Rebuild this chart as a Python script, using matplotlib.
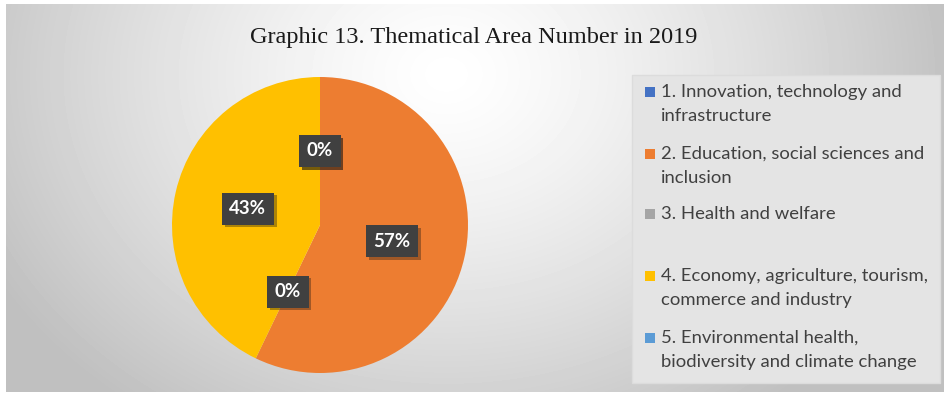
import numpy as np
import matplotlib.pyplot as plt
import matplotlib.patheffects as pe
from matplotlib.patches import Rectangle

# Thematical areas (number of projects in 2019)
areas = ['1. Innovation, technology and\ninfrastructure',
         '2. Education, social sciences and\ninclusion',
         '3. Health and welfare',
         '4. Economy, agriculture, tourism,\ncommerce and industry',
         '5. Environmental health,\nbiodiversity and climate change']
counts = [0, 4, 0, 3, 0]
colors = ['#4472C4', '#ED7D31', '#A5A5A5', '#FFC000', '#5B9BD5']

W, H = 948, 396
fig = plt.figure(figsize=(W / 100, H / 100), dpi=100, facecolor='white')

# background with radial grey gradient
bg = fig.add_axes([6 / W, 4 / H, 938 / W, 388 / H])
yy, xx = np.mgrid[0:388, 0:938]
d = np.sqrt(((xx - 440) / 520.0) ** 2 + ((yy - 70) / 420.0) ** 2)
shade = 1.0 - 0.25 * np.clip(d, 0, 1) ** 1.3
bg.imshow(shade, cmap='gray', vmin=0, vmax=1, aspect='auto',
          extent=[0, 938, 388, 0])
bg.set_axis_off()

fig.text(0.5, 1 - 37 / H, 'Graphic 13. Thematical Area Number in 2019',
         ha='center', va='center', fontsize=17.5, family='Liberation Serif',
         color='#1a1a1a')

# pie
r = 148
cx, cy = 320, 225
ax = fig.add_axes([(cx - r) / W, (H - cy - r) / H, 2 * r / W, 2 * r / H])
wedges, texts, autotexts = ax.pie(counts, colors=colors, startangle=90,
                                  counterclock=False, autopct='%.0f%%',
                                  pctdistance=0.5, radius=1)
ax.set_xlim(-1, 1)
ax.set_ylim(-1, 1)
for t in autotexts:
    t.set_color('white')
    t.set_fontsize(13.5)
    t.set_fontweight('bold')
    t.set_family('Lato')
    t.set_bbox(dict(boxstyle='square,pad=0.4', facecolor='#404040',
                    edgecolor='none'))
    t.get_bbox_patch().set_path_effects(
        [pe.withSimplePatchShadow(offset=(2, -2), alpha=0.35), pe.Normal()])

# legend box
fig.patches.append(Rectangle((632 / W, 1 - 383 / H), 308 / W, 308 / H,
                             transform=fig.transFigure, facecolor='#e4e4e4',
                             edgecolor='#dcdcdc', lw=1, zorder=0.5))
leg_y = [92, 154, 214, 276, 338]
for lab, c, y in zip(areas, colors, leg_y):
    fig.patches.append(Rectangle((645 / W, 1 - (y + 5) / H), 10 / W, 10 / H,
                                 transform=fig.transFigure, facecolor=c,
                                 edgecolor='none', zorder=1))
    fig.text(661 / W, 1 - (y - 8) / H, lab, ha='left', va='top',
             fontsize=13.3, family='Lato', color='#404040', linespacing=1.6)

fig.savefig('out.png', dpi=100, facecolor='white')
